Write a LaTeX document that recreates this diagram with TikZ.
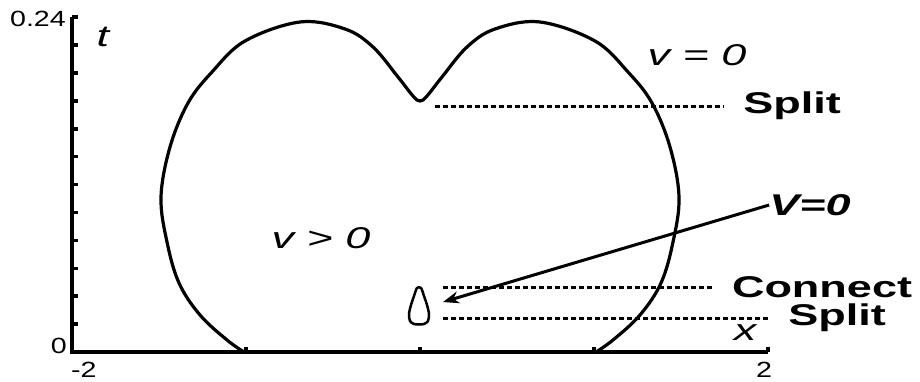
\documentclass[tikz,border=0pt]{standalone}
\usepackage{fontspec}
\setmainfont{Liberation Sans}
\usetikzlibrary{arrows.meta, positioning}
\newcommand{\stretchtxt}[1]{\scalebox{1.5}[1]{#1}}
\newcommand{\stretchnum}[1]{\scalebox{1.3}[1]{#1}}
\tikzset{
  cvlabel/.style={font=\fontsize{30}{36}\selectfont\itshape, inner sep=0pt},
  cvevent/.style={font=\fontsize{30}{36}\selectfont\bfseries, inner sep=0pt},
  cvtick/.style={font=\fontsize{22}{26}\selectfont, inner sep=0pt},
  cvaxis/.style={line width=3.5pt},
  cvline/.style={line width=3.2pt},
  cvlevel/.style={line width=3pt, dash pattern=on 4.5pt off 3.5pt, shorten >=20pt},
  cvflow/.style={-{Stealth[length=16pt, width=12pt]}, line width=3pt},
}

\begin{document}
\begin{tikzpicture}[x=1pt, y=1pt]
  \useasboundingbox (-72,-29) rectangle (848,352);
  % axes
  \coordinate (origin) at (0,0);
  \coordinate (xend) at (696,0);
  \coordinate (tend) at (0,335);
  \draw[cvaxis] (tend) -- (origin) -- (xend);
  \foreach \k in {0,...,12}
    \draw[cvaxis] (0,\k*27.9) -- ++(6,0);
  \foreach \k in {1,...,4}
    \draw[cvaxis] (\k*174,0) -- ++(0,5);
  \node[cvtick, anchor=east](tmax) at (-6,333){\stretchnum{0.24}};
  \node[cvtick, anchor=east](tmin) at (-5,6){\stretchnum{0}};
  \node[cvtick, anchor=north west](xmin) at (-1,-10){\stretchnum{-2}};
  \node[cvtick, anchor=north](xmax) at (692,-10){\stretchnum{2}};
  \node[cvlabel](tlab) at (31,315){\stretchtxt{t}};
  \node[cvlabel](xlab) at (673,19){\stretchtxt{x}};
  % zero level curve
  \draw[cvline] plot[smooth, tension=0.6] coordinates {
    (172,0) (155,12) (128,37) (107,69) (95,110) (89,155) (98,205) (116,249)
    (140,280) (173,311) (228,330) (273,323) (301,305) (326,275) (341,256)
    (348,251) (355,256) (370,275) (395,305) (423,323) (468,330) (523,311)
    (556,280) (580,249) (598,205) (607,155) (601,110) (589,69) (568,37)
    (541,12) (524,0)};
  \draw[line width=2.5pt] plot[smooth cycle, tension=0.5] coordinates {
    (345,64) (349,64) (352,56) (355,47) (357,38) (356,31) (352,28) (347,27.5)
    (342,28) (338,31) (337,38) (339,47) (342,56)};
  \node[cvlabel](vzero) at (625,297){\stretchtxt{v = 0}};
  \node[cvlabel](vpos) at (249,114){\stretchtxt{v > 0}};
  \node[cvevent, font=\fontsize{30}{36}\selectfont\bfseries\itshape](vcurve) at (738,147){\stretchtxt{V=0}};
  % events
  \node[cvevent](splitA) at (720,246){\stretchtxt{Split}};
  \node[cvevent](connect) at (750,65){\stretchtxt{Connect}};
  \node[cvevent](splitB) at (765,34){\stretchtxt{Split}};
  \coordinate (dipR) at (363,246);
  \coordinate (dropT) at (371,65);
  \coordinate (dropB) at (371,34);
  \coordinate (dropR) at (371,50);
  \draw[cvlevel](dipR) -- (dipR -| splitA.west);
  \draw[cvlevel](dropT) -- (dropT -| connect.west);
  \draw[cvlevel](dropB) -- (dropB -| splitB.west);
  \draw[cvflow](vcurve.west) -- (dropR);
\end{tikzpicture}
\end{document}
